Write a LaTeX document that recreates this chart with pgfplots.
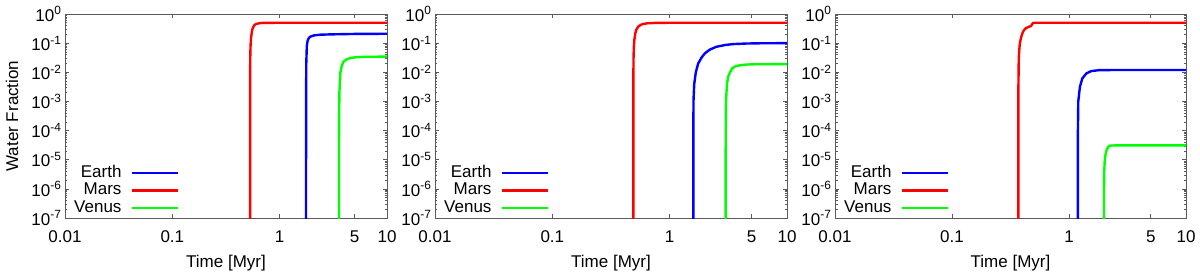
\documentclass[border=0pt]{standalone}
\usepackage{fontspec}
\setmainfont{Liberation Sans}
\usepackage{pgfplots}
\pgfplotsset{compat=1.18}
\definecolor{axgray}{HTML}{5A5A5A}
\definecolor{cE}{RGB}{0,0,255}
\definecolor{cM}{RGB}{255,0,0}
\definecolor{cV}{RGB}{0,255,0}
\newcommand{\fs}{\fontsize{17bp}{19bp}\selectfont}
\pgfplotsset{
  legend image code/.code={\draw[#1] (0bp,0bp) -- (46bp,0bp);},
  every axis plot/.append style={line width=2.4bp, line join=round},
}
\pgfplotsset{every axis/.append style={
  scale only axis, height=204bp,
  axis line style={axgray, line width=0.9bp},
  xtick={0.01,0.1,1,5,10}, xticklabels={0.01,0.1,1,5,10},
  minor xtick={},
  ytick={1e-7,1e-6,1e-5,1e-4,1e-3,1e-2,1e-1,1},
  yticklabels={10\textsuperscript{-7},10\textsuperscript{-6},10\textsuperscript{-5},10\textsuperscript{-4},10\textsuperscript{-3},10\textsuperscript{-2},10\textsuperscript{-1},10\textsuperscript{0}},
  tick align=inside, major tick length=4bp, minor tick length=2.5bp,
  tick style={axgray, line width=0.6bp},
  tick label style={font=\fs},
  xticklabel style={anchor=center, yshift=-19bp},
  xlabel={Time [Myr]},
  xlabel style={at={(axis description cs:0.5,0)}, anchor=center, yshift=-45bp, font=\fs},
  legend style={draw=none, fill=none, at={(0,0)}, anchor=south west, xshift=8bp, yshift=1bp,
    font=\fs, row sep=0bp, column sep=8bp, inner sep=0pt,
    nodes={inner sep=1bp, text height=12bp, text depth=3.5bp}},
  legend cell align=right,
  legend plot pos=right,
}}
\begin{document}
\begin{tikzpicture}
\useasboundingbox (0,0) rectangle (1200bp,278bp);
% ---------------- panel 1
\begin{axis}[xmode=log, ymode=log, xmin=0.01, xmax=10, ymin=1e-7, ymax=1,
  width=322bp, at={(65bp,60bp)}, anchor=south west,
  ylabel={Water Fraction},
  ylabel style={at={(axis description cs:-0.1646,0.5)}, anchor=center, font=\fs}]
\addplot[cE] coordinates {(1.76,1e-8)(1.762,1e-3)(1.77,0.02)(1.79,0.08)(1.82,0.12)(1.87,0.15)(1.95,0.17)(2.1,0.185)(2.4,0.195)(3,0.2)(5,0.207)(10,0.21)};
\addplot[cM] coordinates {(0.53,1e-8)(0.5305,8e-3)(0.532,0.03)(0.535,0.075)(0.54,0.14)(0.55,0.24)(0.56,0.32)(0.58,0.41)(0.6,0.45)(0.65,0.485)(0.7,0.497)(1,0.5)(10,0.5)};
\addplot[cV] coordinates {(3.57,1e-8)(3.575,1e-4)(3.6,2e-3)(3.68,0.01)(3.8,0.017)(3.93,0.023)(4.2,0.028)(4.6,0.031)(5.2,0.033)(6.5,0.034)(10,0.0345)};
\legend{Earth,Mars,Venus}
\end{axis}
% ---------------- panel 2
\begin{axis}[xmode=log, ymode=log, xmin=0.01, xmax=10, ymin=1e-7, ymax=1,
  width=352bp, at={(435bp,60bp)}, anchor=south west]
\addplot[cE] coordinates {(1.59,1e-8)(1.595,1e-3)(1.62,0.004)(1.67,0.01)(1.75,0.02)(1.87,0.032)(2.0,0.045)(2.2,0.06)(2.5,0.075)(3,0.087)(3.5,0.093)(4.5,0.097)(6,0.099)(10,0.1)};
\addplot[cM] coordinates {(0.49,1e-8)(0.4902,5e-3)(0.492,0.03)(0.495,0.07)(0.5,0.13)(0.51,0.22)(0.52,0.29)(0.54,0.37)(0.57,0.43)(0.6,0.46)(0.65,0.48)(0.75,0.495)(1,0.5)(10,0.5)};
\addplot[cV] coordinates {(3.0,1e-8)(3.003,1e-4)(3.02,1e-3)(3.08,0.004)(3.15,0.007)(3.27,0.01)(3.4,0.0135)(3.6,0.0158)(4,0.0175)(4.5,0.0184)(5.5,0.0189)(10,0.019)};
\legend{Earth,Mars,Venus}
\end{axis}
% ---------------- panel 3
\begin{axis}[xmode=log, ymode=log, xmin=0.01, xmax=10, ymin=1e-7, ymax=1,
  width=351bp, at={(835bp,60bp)}, anchor=south west]
\addplot[cE] coordinates {(1.19,1e-8)(1.192,1e-4)(1.2,1e-3)(1.24,0.0032)(1.3,0.0062)(1.41,0.0092)(1.55,0.011)(1.8,0.0118)(2.5,0.012)(10,0.012)};
\addplot[cM] coordinates {(0.369,1e-8)(0.3695,0.003)(0.372,0.03)(0.376,0.06)(0.38,0.098)(0.39,0.16)(0.4,0.22)(0.41,0.27)(0.42,0.3)(0.43,0.33)(0.45,0.36)(0.47,0.38)(0.48,0.42)(0.49,0.48)(0.5,0.5)(10,0.5)};
\addplot[cV] coordinates {(1.99,1e-8)(1.992,1e-6)(2.0,4e-6)(2.02,9e-6)(2.05,1.5e-5)(2.1,2.2e-5)(2.17,2.8e-5)(2.24,3.05e-5)(2.5,3.1e-5)(10,3.1e-5)};
\legend{Earth,Mars,Venus}
\end{axis}
\end{tikzpicture}
\end{document}
